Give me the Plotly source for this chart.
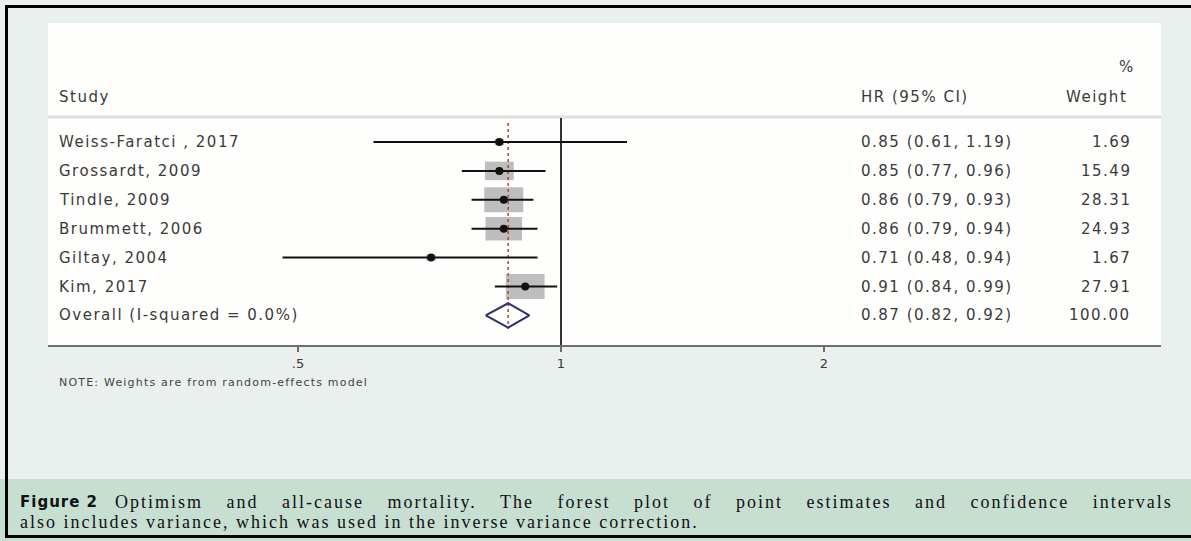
import math
import plotly.graph_objects as go

# ---------------- data ----------------
studies = ["Weiss-Faratci , 2017", "Grossardt, 2009", "Tindle, 2009",
           "Brummett, 2006", "Giltay, 2004", "Kim, 2017"]
hr = [0.85, 0.85, 0.86, 0.86, 0.71, 0.91]
ci_low = [0.61, 0.77, 0.79, 0.79, 0.48, 0.84]
ci_high = [1.19, 0.96, 0.93, 0.94, 0.94, 0.99]
weights = [1.69, 15.49, 28.31, 24.93, 1.67, 27.91]

overall_label = "Overall (I-squared = 0.0%)"
overall_hr = 0.87
overall_low = 0.82
overall_high = 0.92
overall_weight = 100.00

tick_vals = [0.5, 1, 2]
tick_text = [".5", "1", "2"]

header_study = "Study"
header_effect = "HR (95% CI)"
header_weight_top = "%"
header_weight = "Weight"
note_text = "NOTE: Weights are from random-effects model"
caption_label = "Figure 2"
caption_line1 = ("Optimism and all-cause mortality. The forest plot of point "
                 "estimates and confidence intervals")
caption_line2 = ("also includes variance, which was used in the inverse "
                 "variance correction.")

# ---------------- geometry (pixels) ----------------
W, H = 1191, 541
PL, PR, PT, PB = 48, 1161, 23, 345      # white plotting panel
ROW0, PITCH = 142, 28.9                 # first row centre, row pitch
X1PX, OCT = 561, 263                    # pixel of HR = 1, pixels per doubling
BOX_W, BOX_H = 7.33, 4.7                # box size per sqrt(weight)


def pxx(px):
    return (px - PL) / (PR - PL)


def pxy(py):
    return (PB - py) / (PB - PT)


def row(py):
    return (py - ROW0) / PITCH


xrange_log = [(PL - X1PX) / OCT * math.log10(2), (PR - X1PX) / OCT * math.log10(2)]
yrange = [row(PB), row(PT)]

TXT = "#3a3a3a"
SANS = "DejaVu Sans"


def sp(s, px):
    return f'<span style="letter-spacing:{px}px">{s}</span>'


def sp2(s, px, wpx):
    return f'<span style="letter-spacing:{px}px;word-spacing:{wpx}px">{s}</span>'


rows = list(range(len(studies)))
n = len(studies)

fig = go.Figure()

# CI lines
ci_x, ci_y = [], []
for i, (lo, hi) in enumerate(zip(ci_low, ci_high)):
    ci_x += [lo, hi, None]
    ci_y += [i, i, None]
fig.add_trace(go.Scatter(x=ci_x, y=ci_y, mode="lines",
                         line=dict(color="#111111", width=2),
                         hoverinfo="skip", showlegend=False))
# point estimates
fig.add_trace(go.Scatter(x=hr, y=rows, mode="markers",
                         marker=dict(color="#111111", size=8),
                         showlegend=False))
# overall diamond
half = 0.42
fig.add_trace(go.Scatter(
    x=[overall_low, overall_hr, overall_high, overall_hr, overall_low],
    y=[n, n - half, n, n + half, n], mode="lines",
    line=dict(color="#2E2F72", width=2), showlegend=False, hoverinfo="skip"))

shapes = []
# caption band
shapes.append(dict(type="rect", xref="paper", yref="paper",
                   x0=pxx(-5), x1=pxx(W + 5), y0=pxy(H + 5), y1=pxy(479),
                   fillcolor="#C6DFD1", line=dict(width=0), layer="below"))
# header separator
shapes.append(dict(type="line", xref="paper", yref="y", x0=0, x1=1,
                   y0=row(117), y1=row(117),
                   line=dict(color="#DEDEDE", width=3), layer="below"))
# reference line at HR = 1
shapes.append(dict(type="line", xref="x", yref="paper", x0=1, x1=1,
                   y0=pxy(351), y1=pxy(118),
                   line=dict(color="#333333", width=2), layer="below"))
# weight boxes (sizes converted from pixels to axis units)
for i, w in enumerate(weights):
    half_w = BOX_W * math.sqrt(w) / 2 / OCT          # in doublings
    half_h = BOX_H * math.sqrt(w) / 2 / PITCH        # in rows
    shapes.append(dict(type="rect", xref="x", yref="y",
                       x0=hr[i] * 2 ** (-half_w), x1=hr[i] * 2 ** half_w,
                       y0=i - half_h, y1=i + half_h,
                       fillcolor="#BEBEBE", line=dict(width=0), layer="below"))
# overall estimate dashed line
shapes.append(dict(type="line", xref="x", yref="y", x0=overall_hr, x1=overall_hr,
                   y0=row(123), y1=row(329),
                   line=dict(color="#B8413F", width=1.5, dash="3px,3px"),
                   layer="below"))
# outer frame
shapes.append(dict(type="rect", xref="paper", yref="paper",
                   x0=pxx(6.5), x1=pxx(W + 20), y0=pxy(536.5), y1=pxy(6.5),
                   line=dict(color="#000000", width=3),
                   fillcolor="rgba(0,0,0,0)", layer="above"))

ann = []
f15 = dict(family=SANS, size=15, color=TXT)
LS = 1.5
# headers
ann.append(dict(text=sp(header_study, LS), x=pxx(57), y=row(97), xref="paper", yref="y",
                xanchor="left", yanchor="middle", showarrow=False, font=f15))
ann.append(dict(text=sp(header_effect, LS), x=pxx(859), y=row(97), xref="paper", yref="y",
                xanchor="left", yanchor="middle", showarrow=False, font=f15))
ann.append(dict(text=sp(header_weight, LS), x=pxx(1129), y=row(97), xref="paper", yref="y",
                xanchor="right", yanchor="middle", showarrow=False, font=f15))
ann.append(dict(text=sp(header_weight_top, LS), x=pxx(1137), y=row(67), xref="paper", yref="y",
                xanchor="right", yanchor="middle", showarrow=False, font=f15))

labels = studies + [overall_label]
eff_txt = [f"{h:.2f} ({l:.2f}, {u:.2f})" for h, l, u in zip(hr, ci_low, ci_high)]
eff_txt.append(f"{overall_hr:.2f} ({overall_low:.2f}, {overall_high:.2f})")
wt_txt = [f"{w:.2f}" for w in weights] + [f"{overall_weight:.2f}"]
for i, (lab, e, wt) in enumerate(zip(labels, eff_txt, wt_txt)):
    ann.append(dict(text=sp(lab, LS), x=pxx(57), y=i, xref="paper", yref="y",
                    xanchor="left", yanchor="middle", showarrow=False, font=f15))
    ann.append(dict(text=sp(e, LS), x=pxx(859), y=i, xref="paper", yref="y",
                    xanchor="left", yanchor="middle", showarrow=False, font=f15))
    ann.append(dict(text=sp(wt, LS), x=pxx(1133), y=i, xref="paper", yref="y",
                    xanchor="right", yanchor="middle", showarrow=False, font=f15))

# note
ann.append(dict(text=sp(note_text, 1.2), x=pxx(57), y=pxy(383), xref="paper", yref="paper",
                xanchor="left", yanchor="middle", showarrow=False,
                font=dict(family=SANS, size=11, color="#444444")))
# caption
ann.append(dict(text=sp(f"<b>{caption_label}</b>", 1), x=pxx(18), y=pxy(502),
                xref="paper", yref="paper", xanchor="left", yanchor="middle",
                showarrow=False, font=dict(family="DejaVu Sans", size=15, color="#111111")))
ann.append(dict(text=sp2(caption_line1, 2.0, 17), x=pxx(113), y=pxy(502),
                xref="paper", yref="paper", xanchor="left", yanchor="middle",
                showarrow=False, font=dict(family="Liberation Serif", size=18, color="#111111")))
ann.append(dict(text=sp(caption_line2, 2.0), x=pxx(18), y=pxy(522),
                xref="paper", yref="paper", xanchor="left", yanchor="middle",
                showarrow=False, font=dict(family="Liberation Serif", size=18, color="#111111")))

fig.update_layout(
    template="none",
    width=W, height=H, autosize=False,
    margin=dict(l=PL, r=W - PR, t=PT, b=H - PB, pad=0),
    paper_bgcolor="#EAF0EE",
    plot_bgcolor="#FEFEFC",
    showlegend=False,
    shapes=shapes,
    annotations=ann,
    xaxis=dict(type="log", range=xrange_log, tickvals=tick_vals, ticktext=tick_text,
               showgrid=False, zeroline=False, showline=True, linecolor="#6E6E6E",
               linewidth=2, ticks="outside", ticklen=5, tickwidth=1.5,
               tickcolor="#6E6E6E", automargin=False, fixedrange=True,
               tickfont=dict(family=SANS, size=13, color=TXT)),
    yaxis=dict(range=yrange, visible=False, showgrid=False, zeroline=False,
               automargin=False, fixedrange=True),
)

fig.write_html("out.html", config={"displayModeBar": False})

# remove the default page margin so the figure fills the window exactly
with open("out.html", encoding="utf-8") as fh:
    page = fh.read()
page = page.replace("<body>", '<body style="margin:0;padding:0;overflow:hidden">', 1)
page = page.replace("<head>", "<head><style>html,body{margin:0;padding:0;}</style>", 1)
with open("out.html", "w", encoding="utf-8") as fh:
    fh.write(page)
